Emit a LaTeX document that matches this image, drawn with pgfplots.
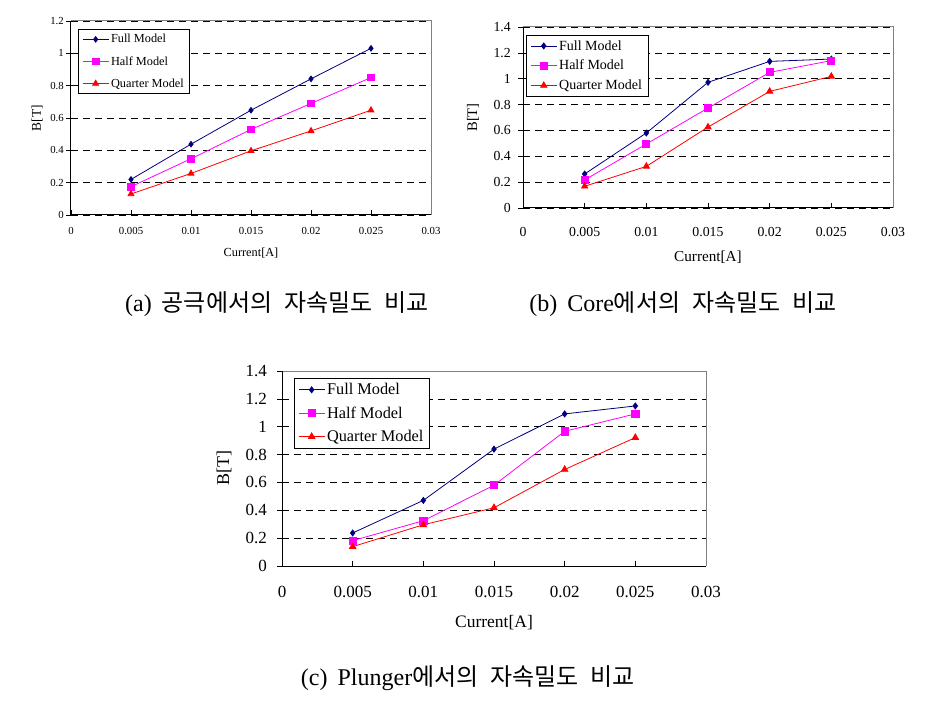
\documentclass[border=0pt]{standalone}
\usepackage{fontspec}
\setmainfont{Liberation Serif}
\newfontfamily\kr{Noto Sans CJK KR}
\usepackage{pgfplots}
\pgfplotsset{compat=1.18}
\usetikzlibrary{calc}

\definecolor{fullc}{RGB}{0,0,128}
\definecolor{halfc}{RGB}{255,0,255}
\definecolor{quarc}{RGB}{255,0,0}
\definecolor{boxgray}{RGB}{128,128,128}

\newcommand{\fs}[1]{\fontsize{#1}{#1}\selectfont}

\pgfplotsset{
  bfield/.style={
    scale only axis, clip=false,
    xmin=0, xmax=0.03, ymin=0,
    xtick={0,0.005,0.01,0.015,0.02,0.025,0.03},
    xticklabels={0,0.005,0.01,0.015,0.02,0.025,0.03},
    scaled x ticks=false, scaled y ticks=false,
    tick align=inside, xtick pos=bottom, ytick pos=left,
    major tick length=5pt,
    ytick style={xshift=-5pt, black, line width=0.7pt},
    xtick style={black, line width=0.7pt},
    ymajorgrids,
    major grid style={black, dash pattern=on 7pt off 5pt, line width=0.7pt},
    axis line style={draw=none},
    legend cell align=left,
    legend style={draw=black, fill=white, line width=0.8pt, anchor=north west,
      inner xsep=4pt, inner ysep=3pt},
    legend image code/.code={
      \draw[mark repeat=2, mark phase=2]
        plot coordinates {(0pt,0pt) (13pt,0pt) (26pt,0pt)};},
    every axis plot/.append style={line width=0.8pt},
    every x tick label/.append style={anchor=center, inner sep=0pt},
    every y tick label/.append style={anchor=east, inner sep=0pt},
    xlabel={Current[A]}, ylabel={B[T]},
  },
  borders/.style={
    after end axis/.code={
      \draw[boxgray, line width=1pt] (rel axis cs:0,1) -- (rel axis cs:1,1) -- (rel axis cs:1,0);
      \draw[black, line width=1pt] (rel axis cs:0,1) -- (rel axis cs:0,0) -- (rel axis cs:1,0);
    }
  },
}

\begin{document}
\begin{tikzpicture}
\path[use as bounding box] (0,0) rectangle (938pt,-703pt);

% (a)
\begin{axis}[bfield, borders,
  at={(71pt,-215pt)}, anchor=south west,
  width=360pt, height=194pt,
  ymax=1.2,
  ytick={0,0.2,0.4,0.6,0.8,1,1.2},
  yticklabels={0,0.2,0.4,0.6,0.8,1,1.2},
  ticklabel style={font=\fs{10.8}},
  every x tick label/.append style={yshift=-16pt},
  every y tick label/.append style={xshift=-7pt},
  every axis x label/.style={at={($(rel axis cs:0.5,0)+(0,-38pt)$)}, anchor=center, font=\fs{12.3}},
  every axis y label/.style={at={($(rel axis cs:0,0.5)+(-34pt,0)$)}, anchor=center, rotate=90, font=\fs{13.4}},
  legend style={at={(0.019,0.959)}, font=\fs{12.3}, row sep=8pt},
]
\addplot[color=fullc, mark=diamond*, mark size=2.8pt] coordinates {
  (0.005,0.220) (0.010,0.438) (0.015,0.648) (0.020,0.842) (0.025,1.031)};
\addlegendentry{Full Model}
\addplot[color=halfc, mark=square*, mark size=3.3pt] coordinates {
  (0.005,0.175) (0.010,0.348) (0.015,0.529) (0.020,0.690) (0.025,0.850)};
\addlegendentry{Half Model}
\addplot[color=quarc, mark=triangle*, mark size=3.4pt] coordinates {
  (0.005,0.130) (0.010,0.257) (0.015,0.397) (0.020,0.520) (0.025,0.648)};
\addlegendentry{Quarter Model}
\end{axis}

% (b)
\begin{axis}[bfield, borders,
  at={(523pt,-208pt)}, anchor=south west,
  width=370pt, height=181pt,
  ymax=1.4,
  ytick={0,0.2,0.4,0.6,0.8,1,1.2,1.4},
  yticklabels={0,0.2,0.4,0.6,0.8,1,1.2,1.4},
  ticklabel style={font=\fs{13.8}},
  every x tick label/.append style={yshift=-24pt},
  every y tick label/.append style={xshift=-12pt},
  every axis x label/.style={at={($(rel axis cs:0.5,0)+(0,-49pt)$)}, anchor=center, font=\fs{15.2}},
  every axis y label/.style={at={($(rel axis cs:0,0.5)+(-50pt,0)$)}, anchor=center, rotate=90, font=\fs{14.6}},
  legend style={at={(0.008,0.956)}, font=\fs{14}, row sep=4.5pt},
]
\addplot[color=fullc, mark=diamond*, mark size=3pt] coordinates {
  (0.005,0.263) (0.010,0.580) (0.015,0.972) (0.020,1.134) (0.025,1.152)};
\addlegendentry{Full Model}
\addplot[color=halfc, mark=square*, mark size=3.5pt] coordinates {
  (0.005,0.217) (0.010,0.495) (0.015,0.773) (0.020,1.049) (0.025,1.140)};
\addlegendentry{Half Model}
\addplot[color=quarc, mark=triangle*, mark size=3.6pt] coordinates {
  (0.005,0.168) (0.010,0.322) (0.015,0.626) (0.020,0.902) (0.025,1.018)};
\addlegendentry{Quarter Model}
\end{axis}

% (c)
\begin{axis}[bfield, borders,
  at={(282pt,-566pt)}, anchor=south west,
  width=424pt, height=195pt,
  ymax=1.4,
  ytick={0,0.2,0.4,0.6,0.8,1,1.2,1.4},
  yticklabels={0,0.2,0.4,0.6,0.8,1,1.2,1.4},
  ticklabel style={font=\fs{17}},
  every x tick label/.append style={yshift=-26pt},
  every y tick label/.append style={xshift=-15pt},
  every axis x label/.style={at={($(rel axis cs:0.5,0)+(0,-57pt)$)}, anchor=center, font=\fs{17.5}},
  every axis y label/.style={at={($(rel axis cs:0,0.5)+(-58pt,0)$)}, anchor=center, rotate=90, font=\fs{18}},
  legend style={at={(0.028,0.964)}, font=\fs{16.3}, row sep=6.5pt},
]
\addplot[color=fullc, mark=diamond*, mark size=3pt] coordinates {
  (0.005,0.237) (0.010,0.471) (0.015,0.839) (0.020,1.092) (0.025,1.149)};
\addlegendentry{Full Model}
\addplot[color=halfc, mark=square*, mark size=3.6pt] coordinates {
  (0.005,0.182) (0.010,0.325) (0.015,0.580) (0.020,0.967) (0.025,1.092)};
\addlegendentry{Half Model}
\addplot[color=quarc, mark=triangle*, mark size=3.7pt] coordinates {
  (0.005,0.139) (0.010,0.296) (0.015,0.418) (0.020,0.693) (0.025,0.922)};
\addlegendentry{Quarter Model}
\end{axis}

\node[font=\fs{24}] at (277pt,-304pt) {(a)\hspace{10pt}{\kr 공극에서의\hspace{12pt}자속밀도\hspace{12pt}비교}};
\node[font=\fs{24}] at (683pt,-304pt) {(b)\hspace{10pt}Core{\kr 에서의\hspace{12pt}자속밀도\hspace{12pt}비교}};
\node[font=\fs{24}] at (468pt,-678pt) {(c)\hspace{10pt}Plunger{\kr 에서의\hspace{12pt}자속밀도\hspace{12pt}비교}};
\end{tikzpicture}
\end{document}
